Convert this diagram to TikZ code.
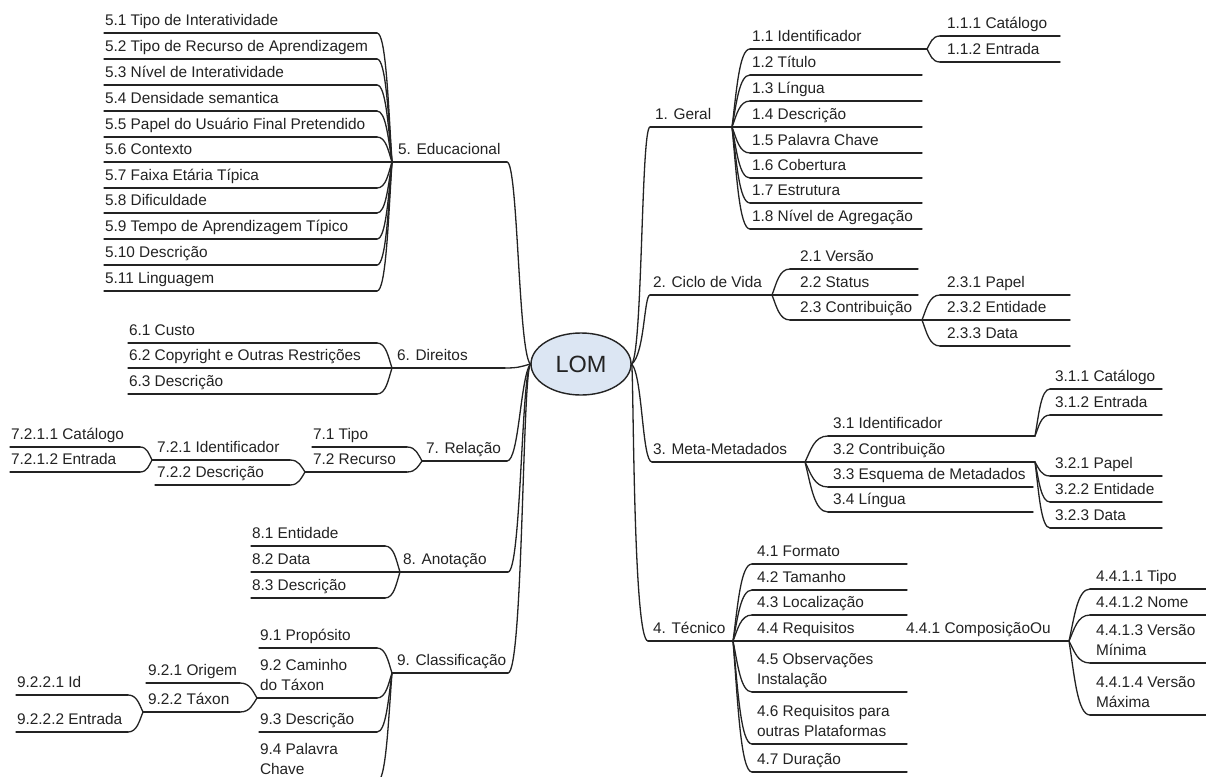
\documentclass[tikz,border=0pt]{standalone}
\usepackage{fontspec}
\setmainfont{Liberation Sans}
\usetikzlibrary{calc,shapes.geometric}
\definecolor{lomblue}{RGB}{220,230,243}
\definecolor{ink}{RGB}{35,35,35}
\tikzset{
  conn/.style={draw=ink, line width=1.3pt, line cap=round},
  lbl/.style={anchor=base west, inner sep=0pt, outer sep=0pt, text=ink, align=left,
              font=\fontsize{15.4}{20.5}\selectfont},
  lomnode/.style={draw=ink, line width=1.4pt, fill=lomblue, ellipse, inner sep=0pt,
                  minimum width=100pt, minimum height=62pt, text=ink,
                  font=\fontsize{23.5}{26}\selectfont}
}
% name, x1, x2, y(line), xtext, text   (base anchor = baseline of the last line)
\newcommand\topicx[6]{%
  \coordinate (#1a) at (#2,#4);
  \coordinate (#1b) at (#3,#4);
  \draw[conn] (#1a) -- (#1b);
  \node[lbl] (#1) at (#5,#4-7.5) {#6};
}
\newcommand\fanline[2]{%
  \draw[conn] let \p1=(#1), \p2=(#2) in
    (\p1) .. controls ({0.4*\x1+0.6*\x2},\y1) and ({0.25*\x1+0.75*\x2},{0.45*\y1+0.55*\y2}) .. (\p2);
}
\begin{document}
\begin{tikzpicture}[x=1pt,y=-1pt]
\useasboundingbox (0,0) rectangle (1206,776);
\clip (0,0) rectangle (1206,776);
\fill[white] (0,0) rectangle (1206,776);

\node[lomnode] (lom) at (581,364) {LOM};

% ---------- 5. Educacional ----------
\topicx{t5}{392}{507}{162}{398}{5. Educacional}
\topicx{t5-1}{104}{377}{33}{105}{5.1 Tipo de Interatividade}
\topicx{t5-2}{104}{377}{59}{105}{5.2 Tipo de Recurso de Aprendizagem}
\topicx{t5-3}{104}{377}{85}{105}{5.3 Nível de Interatividade}
\topicx{t5-4}{104}{377}{111}{105}{5.4 Densidade semantica}
\topicx{t5-5}{104}{377}{137}{105}{5.5 Papel do Usuário Final Pretendido}
\topicx{t5-6}{104}{377}{162}{105}{5.6 Contexto}
\topicx{t5-7}{104}{377}{188}{105}{5.7 Faixa Etária Típica}
\topicx{t5-8}{104}{377}{213}{105}{5.8 Dificuldade}
\topicx{t5-9}{104}{377}{239}{105}{5.9 Tempo de Aprendizagem Típico}
\topicx{t5-10}{104}{377}{265}{105}{5.10 Descrição}
\topicx{t5-11}{104}{377}{291}{105}{5.11 Linguagem}
\foreach \i in {1,...,11} {\fanline{t5-\i b}{t5a}}

% ---------- 6. Direitos ----------
\topicx{t6}{392}{505}{368}{397}{6. Direitos}
\topicx{t6-1}{128}{377}{343}{129}{6.1 Custo}
\topicx{t6-2}{128}{377}{368}{129}{6.2 Copyright e Outras Restrições}
\topicx{t6-3}{128}{377}{394}{129}{6.3 Descrição}
\foreach \i in {1,2,3} {\fanline{t6-\i b}{t6a}}

% ---------- 7. Relação ----------
\topicx{t7}{422}{507}{461}{426}{7. Relação}
\topicx{t7-1}{312}{407}{447}{313}{7.1 Tipo}
\topicx{t7-2}{305}{407}{472}{313}{7.2 Recurso}
\fanline{t7-1b}{t7a}
\fanline{t7-2b}{t7a}
\topicx{t7-2-1}{152}{290}{460}{157}{7.2.1 Identificador}
\topicx{t7-2-2}{155}{290}{485}{157}{7.2.2 Descrição}
\fanline{t7-2-1b}{t7-2a}
\fanline{t7-2-2b}{t7-2a}
\topicx{t7-2-1-1}{10}{140}{447}{11}{7.2.1.1 Catálogo}
\topicx{t7-2-1-2}{10}{140}{472}{11}{7.2.1.2 Entrada}
\fanline{t7-2-1-1b}{t7-2-1a}
\fanline{t7-2-1-2b}{t7-2-1a}

% ---------- 8. Anotação ----------
\topicx{t8}{400}{508}{572}{403}{8. Anotação}
\topicx{t8-1}{251}{385}{546}{252}{8.1 Entidade}
\topicx{t8-2}{251}{385}{572}{252}{8.2 Data}
\topicx{t8-3}{251}{385}{598}{252}{8.3 Descrição}
\foreach \i in {1,2,3} {\fanline{t8-\i b}{t8a}}

% ---------- 9. Classificação ----------
\topicx{t9}{392}{508}{673}{397}{9. Classificação}
\topicx{t9-1}{259}{377}{648}{260}{9.1 Propósito}
\topicx{t9-2}{257}{377}{698}{260}{9.2 Caminho\\do Táxon}
\topicx{t9-3}{259}{377}{732}{260}{9.3 Descrição}
\topicx{t9-4}{259}{377}{782}{260}{9.4 Palavra\\Chave}
\foreach \i in {1,...,4} {\fanline{t9-\i b}{t9a}}
\topicx{t9-2-1}{146}{240}{683}{148}{9.2.1 Origem}
\topicx{t9-2-2}{143}{240}{712}{148}{9.2.2 Táxon}
\fanline{t9-2-1b}{t9-2a}
\fanline{t9-2-2b}{t9-2a}
\topicx{t9-2-2-1}{16}{128}{695}{17}{9.2.2.1 Id}
\topicx{t9-2-2-2}{16}{128}{732}{17}{9.2.2.2 Entrada}
\fanline{t9-2-2-1b}{t9-2-2a}
\fanline{t9-2-2-2b}{t9-2-2a}

% ---------- 1. Geral ----------
\topicx{t1}{650}{732}{127}{655}{1. Geral}
\topicx{t1-1}{750}{927}{49}{752}{1.1 Identificador}
\topicx{t1-2}{750}{922}{75}{752}{1.2 Título}
\topicx{t1-3}{750}{922}{101}{752}{1.3 Língua}
\topicx{t1-4}{750}{922}{127}{752}{1.4 Descrição}
\topicx{t1-5}{750}{922}{153}{752}{1.5 Palavra Chave}
\topicx{t1-6}{750}{922}{178}{752}{1.6 Cobertura}
\topicx{t1-7}{750}{922}{203}{752}{1.7 Estrutura}
\topicx{t1-8}{750}{922}{229}{752}{1.8 Nível de Agregação}
\foreach \i in {1,...,8} {\fanline{t1-\i a}{t1b}}
\topicx{t1-1-1}{940}{1060}{36}{947}{1.1.1 Catálogo}
\topicx{t1-1-2}{940}{1060}{62}{947}{1.1.2 Entrada}
\fanline{t1-1-1a}{t1-1b}
\fanline{t1-1-2a}{t1-1b}

% ---------- 2. Ciclo de Vida ----------
\topicx{t2}{650}{772}{295}{653}{2. Ciclo de Vida}
\topicx{t2-1}{790}{918}{269}{800}{2.1 Versão}
\topicx{t2-2}{790}{918}{295}{800}{2.2 Status}
\topicx{t2-3}{790}{922}{320}{800}{2.3 Contribuição}
\foreach \i in {1,2,3} {\fanline{t2-\i a}{t2b}}
\topicx{t2-3-1}{940}{1070}{295}{947}{2.3.1 Papel}
\topicx{t2-3-2}{940}{1070}{320}{947}{2.3.2 Entidade}
\topicx{t2-3-3}{940}{1070}{346}{947}{2.3.3 Data}
\foreach \i in {1,2,3} {\fanline{t2-3-\i a}{t2-3b}}

% ---------- 3. Meta-Metadados ----------
\topicx{t3}{652}{805}{462}{653}{3. Meta-Metadados}
\topicx{t3-1}{828}{1035}{436}{833}{3.1 Identificador}
\topicx{t3-2}{828}{1035}{462}{833}{3.2 Contribuição}
\topicx{t3-3}{828}{1033}{487}{833}{3.3 Esquema de Metadados}
\topicx{t3-4}{828}{1033}{512}{833}{3.4 Língua}
\foreach \i in {1,...,4} {\fanline{t3-\i a}{t3b}}
\topicx{t3-1-1}{1050}{1162}{389}{1055}{3.1.1 Catálogo}
\topicx{t3-1-2}{1050}{1162}{415}{1055}{3.1.2 Entrada}
\fanline{t3-1-1a}{t3-1b}
\fanline{t3-1-2a}{t3-1b}
\topicx{t3-2-1}{1050}{1162}{476}{1055}{3.2.1 Papel}
\topicx{t3-2-2}{1050}{1162}{502}{1055}{3.2.2 Entidade}
\topicx{t3-2-3}{1050}{1162}{528}{1055}{3.2.3 Data}
\foreach \i in {1,2,3} {\fanline{t3-2-\i a}{t3-2b}}

% ---------- 4. Técnico ----------
\topicx{t4}{648}{733}{641}{653}{4. Técnico}
\topicx{t4-1}{752}{907}{564}{757}{4.1 Formato}
\topicx{t4-2}{752}{907}{590}{757}{4.2 Tamanho}
\topicx{t4-3}{752}{907}{615}{757}{4.3 Localização}
\topicx{t4-4}{752}{907}{641}{757}{4.4 Requisitos}
\topicx{t4-5}{752}{907}{692}{757}{4.5 Observações\\Instalação}
\topicx{t4-6}{752}{907}{744}{757}{4.6 Requisitos para\\outras Plataformas}
\topicx{t4-7}{752}{907}{772}{757}{4.7 Duração}
\foreach \i in {1,...,7} {\fanline{t4-\i a}{t4b}}
\topicx{t4-4-1}{907}{1069}{641}{906}{4.4.1 ComposiçãoOu}
\draw[conn] (t4-4b) -- (t4-4-1a);
\topicx{t4-4-1-1}{1090}{1212}{589}{1096}{4.4.1.1 Tipo}
\topicx{t4-4-1-2}{1090}{1212}{615}{1096}{4.4.1.2 Nome}
\topicx{t4-4-1-3}{1090}{1212}{663}{1096}{4.4.1.3 Versão\\Mínima}
\topicx{t4-4-1-4}{1090}{1212}{715}{1096}{4.4.1.4 Versão\\Máxima}
\foreach \i in {1,...,4} {\fanline{t4-4-1-\i a}{t4-4-1b}}

% ---------- connectors from LOM ----------
\draw[conn] (lom.west) .. controls +(-12,-12) and +(11,0) .. (t5b);
\draw[conn] (lom.west) .. controls +(-10,3) and +(12,0) .. (t6b);
\draw[conn] (lom.west) .. controls +(-10,14) and +(12,0) .. (t7b);
\draw[conn] (lom.west) .. controls +(-9,14) and +(13,0) .. (t8b);
\draw[conn] (lom.west) .. controls +(-8,14) and +(15,0) .. (t9b);
\draw[conn] (lom.east) .. controls +(11,-12) and +(-9,0) .. (t1a);
\draw[conn] (lom.east) .. controls +(13,-10) and +(-6,0) .. (t2a);
\draw[conn] (lom.east) .. controls +(11,12) and +(-10,0) .. (t3a);
\draw[conn] (lom.east) .. controls +(2,14) and +(-15,0) .. (t4a);
\end{tikzpicture}
\end{document}
